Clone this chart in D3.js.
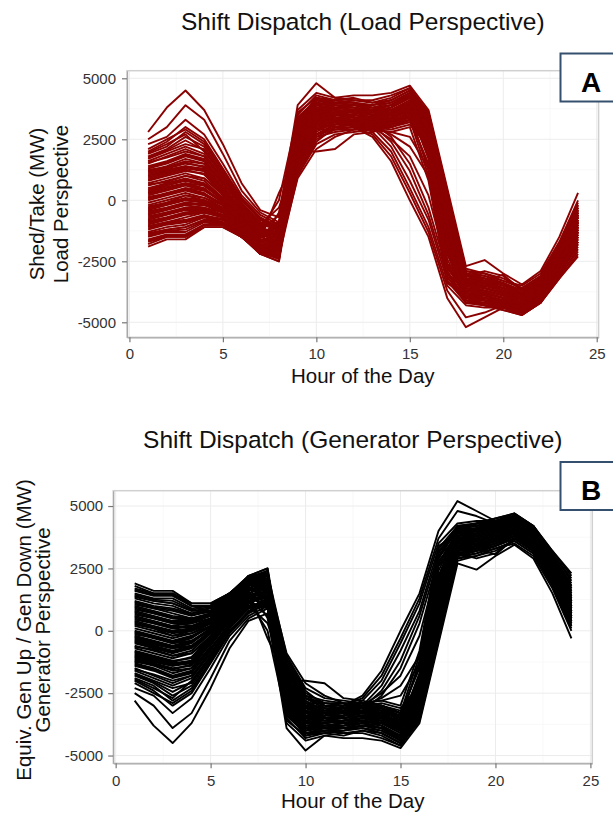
<!DOCTYPE html>
<html lang="en">
<head>
<meta charset="UTF-8">
<title>Shift Dispatch</title>
<script src="https://d3js.org/d3.v7.min.js"></script>
<style>
  body { margin: 0; background: #fff; }
  svg { display: block; font-family: "Liberation Sans", Arial, sans-serif; }
  .tick text { fill: #333; font-size: 15px; }
</style>
</head>
<body>
<div id="chart"></div>
<script>
var hours = [1, 2, 3, 4, 5, 6, 7, 8, 9, 10, 11, 12, 13, 14, 15, 16, 17, 18, 19, 20, 21, 22, 23, 24];
var xTicks = [0, 5, 10, 15, 20, 25];
var xMinor = [2.5, 7.5, 12.5, 17.5, 22.5];
var yTicks = [-5000, -2500, 0, 2500, 5000];
var yMinor = [-3750, -1250, 1250, 3750];

// one row per simulated day, MW shed(+)/take(-) for hours 1..24
var loadShift = [
  [2800,3800,4500,3700,2300,700,-400,-700,3900,4800,4200,4300,4300,4400,4700,3700,500,-2700,-2450,-3000,-3450,-2900,-1500,300],
  [2500,3000,3900,3300,1900,400,-500,-900,2000,2000,2100,2700,2800,3000,3300,2500,-1000,-3300,-3600,-3800,-4000,-3500,-2300,-900],
  [2300,2600,3300,2700,1500,200,-600,-1000,3000,4100,4100,4200,4000,4200,4600,3500,200,-2900,-3000,-3200,-3600,-3100,-1900,-200],
  [2000,2400,3000,2500,1300,100,-700,-1100,2800,3900,4000,4000,3900,4100,4500,3300,-100,-3100,-2900,-3100,-3700,-3200,-2000,-400],
  [1900,2200,2800,2300,1200,0,-800,-1200,2600,3700,3800,3800,3700,3900,4300,3100,-400,-3000,-3200,-3400,-3800,-3300,-2100,-600],
  [1800,2100,2600,2200,1100,-100,-900,-1300,2400,3600,3700,3600,3600,3800,4200,3000,-600,-3200,-3300,-3600,-3900,-3400,-2200,-700],
  [1700,2000,2300,2100,1000,-200,-1000,-1000,2200,3400,3600,3500,3400,3600,4000,1800,-2200,-3400,-3500,-3700,-4000,-3500,-2300,-800],
  [1600,1900,2200,1900,900,-200,-1100,-1400,2000,3200,3400,3400,3300,3500,3900,2600,-1000,-3500,-3600,-3800,-4100,-3600,-2400,-900],
  [1500,1800,2100,1800,800,-300,-1000,-300,1800,3000,3300,3300,3200,3300,3700,2400,-1200,-3600,-3700,-3900,-4200,-3700,-2500,-1000],
  [1400,1600,1900,1700,700,-300,-1200,-1500,1600,2800,3200,3200,3100,3200,3600,1200,-3000,-3700,-3800,-4000,-4300,-3800,-2600,-1100],
  [1300,1500,1800,1600,600,-400,-1100,-1000,1400,2600,3000,3100,3000,3100,3400,2000,-1600,-3800,-3900,-4100,-4400,-3900,-2700,-1200],
  [1200,1400,1700,1500,500,-400,-1300,-1600,1200,2500,2900,3000,2900,3000,3300,1000,-3400,-3900,-4000,-4200,-4400,-4000,-2800,-1300],
  [1100,1300,1500,1400,500,-500,-1200,0,3500,4300,4100,4000,3800,3700,3900,3200,0,-3000,-3300,-3050,-3700,-3200,-2000,-300],
  [1000,1200,1400,1300,400,-500,-1400,-1700,3300,4200,4000,3900,3700,3600,3800,3000,-200,-3200,-3400,-3600,-3800,-3300,-2100,-500],
  [900,1100,1300,1200,300,-600,-1300,-1100,3100,4000,3900,3800,3600,3500,3700,2900,-500,-3300,-3500,-3700,-3900,-3400,-2200,-600],
  [800,1000,1200,1100,300,-600,-1500,-1800,2900,3800,3800,3700,3500,3400,3600,2800,-700,-3400,-3600,-3800,-4000,-3500,-2300,-700],
  [700,900,1100,900,200,-700,-1400,-900,2700,3700,3700,3600,3400,3300,3500,2700,-900,-3500,-3700,-3900,-4100,-3600,-2400,-800],
  [600,800,1000,800,100,-700,-1600,-1900,2500,3500,3600,3500,3300,3200,3400,2500,-1100,-3600,-3800,-4000,-4200,-3700,-2500,-900],
  [500,700,900,700,100,-800,-1500,-1300,2300,3300,3500,3400,3200,3100,3300,1500,-2800,-3700,-3900,-4100,-4300,-3800,-2600,-1000],
  [400,600,800,600,0,-800,-1700,-2000,2100,3100,3400,3300,3100,3000,3200,2300,-1500,-3800,-4000,-4200,-4400,-3900,-2700,-1100],
  [300,500,700,500,-100,-800,-1600,300,1900,2900,3300,3200,3000,2900,3100,2200,-1700,-3900,-4100,-4300,-4500,-4000,-2800,-1200],
  [200,400,600,400,-100,-900,-1800,-2100,1700,2700,3100,3100,2900,2800,3000,800,-3300,-4000,-4100,-4300,-4500,-4100,-2900,-1400],
  [100,300,500,300,-200,-900,-1700,-1400,3700,4400,4200,4100,4100,4300,4600,3600,300,-2800,-3000,-3300,-3500,-3000,-1700,0],
  [0,200,400,200,-200,-1000,-1900,-2200,3200,4200,4100,4000,3900,4000,4400,3400,100,-3000,-3100,-3300,-3600,-3100,-1800,-100],
  [-100,100,300,100,-300,-1000,-1800,-500,3400,4100,3900,3800,3700,3800,4200,3500,-300,-3100,-3200,-3400,-3700,-3200,-1900,-300],
  [-200,0,200,0,-300,-1000,-2000,-2300,2500,3300,3200,3100,3100,3300,3800,3200,-600,-3200,-3300,-3500,-3800,-3300,-2000,-500],
  [-300,-100,100,0,-400,-1100,-1900,-1600,2300,3100,3000,3000,3000,3200,3600,3000,-1000,-3300,-3400,-3600,-3900,-3400,-2100,-700],
  [-400,-200,0,-100,-400,-1100,-2100,-2400,2100,2900,2900,2900,2900,3100,3500,2000,-2600,-3400,-3500,-3700,-4000,-3500,-2200,-800],
  [-500,-300,-100,-200,-500,-1100,-2000,-1200,2700,3600,3500,3500,3400,3500,3900,3100,-800,-3500,-3600,-3800,-4100,-3600,-2300,-900],
  [-600,-400,-200,-300,-500,-1200,-2200,-2500,2900,3900,3700,3600,3500,3700,4100,3300,-400,-3600,-3700,-3900,-4200,-3700,-2400,-1000],
  [-700,-500,-300,-300,-600,-1200,-2100,-1800,1900,3000,3100,3300,3300,3400,3800,2900,-1100,-3700,-3800,-4000,-4300,-3800,-2500,-1100],
  [-800,-600,-400,-400,-600,-1200,-2000,-2000,1500,2700,2900,3000,3100,3200,3500,2700,-1500,-3800,-3900,-4100,-4400,-3900,-2600,-1200],
  [-900,-700,-500,-500,-700,-1300,-2100,-1500,1300,2600,2800,2900,3000,3100,3400,1400,-3200,-3900,-4000,-4200,-4500,-4000,-2700,-1300],
  [-1000,-800,-600,-500,-700,-1300,-2200,-2300,1000,2300,2700,2800,2900,3000,3300,2400,-2200,-4000,-4100,-4300,-4600,-4100,-2900,-1500],
  [-1100,-900,-800,-600,-800,-1300,-2000,-1700,2400,3500,3600,3700,3700,3900,4300,3400,-200,-3400,-3500,-3700,-4000,-3500,-2200,-600],
  [-1200,-1000,-900,-700,-800,-1400,-2100,-2100,2600,3800,3900,3900,3800,4000,4400,3500,0,-3300,-3400,-3600,-3900,-3400,-2100,-400],
  [-1300,-1100,-1000,-700,-900,-1400,-2200,-1900,1100,2400,3000,3200,3300,3400,3700,2500,-1900,-4100,-4200,-4400,-4600,-4200,-3000,-1700],
  [-1400,-1200,-1100,-800,-900,-1400,-2000,-2400,3000,4000,3800,3700,3600,3700,4000,3100,-600,-3600,-3800,-4000,-4300,-3800,-2600,-1200],
  [-1500,-1300,-1300,-900,-1000,-1500,-2100,-1600,2000,3300,3500,3400,3300,3400,3800,2700,-1200,-3900,-4100,-4300,-4500,-4000,-2800,-1400],
  [-1600,-1400,-1400,-1000,-1000,-1500,-2200,-2200,2200,3500,3700,3600,3500,3600,4000,2900,-900,-3600,-3900,-4100,-4400,-3900,-2700,-1300],
  [-1700,-1500,-1500,-1000,-1000,-1500,-2100,-2000,1600,2900,3200,3300,3200,3300,3700,1700,-2900,-4100,-4200,-4400,-4600,-4100,-3000,-1800],
  [-1800,-1500,-1500,-1100,-1100,-1500,-2200,-2500,1800,3100,3300,3200,3100,3000,3300,2300,-2100,-4200,-4300,-4500,-4700,-4200,-3100,-2000],
  [-1900,-1600,-1600,-1100,-1100,-1500,-2000,-1800,2800,3700,3500,3400,3200,3100,3500,2600,-1500,-4000,-4300,-4500,-4700,-4200,-3200,-2200],
  [1950,2300,2700,2000,1000,-200,-900,-1200,2600,3600,3400,3000,2600,1600,0,-1500,-4000,-5200,-4800,-4400,-4700,-4200,-3200,-2300],
  [1250,1350,1600,1500,700,-200,-1100,-900,2400,3400,3300,3000,2700,1800,300,-1300,-3700,-4800,-4600,-4300,-4600,-4100,-3100,-2100],
  [650,750,1000,900,300,-500,-1400,-1600,2200,3300,3200,3100,2800,2000,500,-1100,-3500,-4300,-4400,-4400,-4600,-4100,-3000,-1900],
  [150,250,500,400,0,-700,-1600,-1700,2500,3500,3400,3200,3000,2200,800,-800,-3300,-4200,-4300,-4300,-4500,-4000,-2900,-1800],
  [-250,-100,200,100,-200,-900,-1800,-1900,2300,3200,3300,3200,3100,2400,1200,-600,-3100,-4200,-4200,-4300,-4500,-4000,-2900,-1700],
  [-650,-500,-300,-200,-400,-1000,-1900,-2200,2700,3700,3600,3400,3200,2600,1500,-300,-2900,-4100,-4100,-4200,-4400,-3900,-2800,-1600],
  [-1050,-900,-700,-500,-600,-1200,-2000,-1300,2100,3100,3200,3100,3000,2500,1800,200,-2700,-4000,-4000,-4100,-4400,-3900,-2700,-1500],
  [-1350,-1200,-1100,-800,-800,-1300,-2000,-2300,2500,3600,3800,3900,3900,4100,4500,3600,400,-2900,-3100,-3400,-3700,-3200,-1900,-300],
  [1050,1250,1400,1200,500,-400,-1200,-1300,1400,2700,3100,3200,3200,3400,3800,2800,-1300,-3700,-3900,-4100,-4300,-3800,-2400,-800],
  [350,550,700,600,100,-600,-1500,-1100,3600,4200,4000,3900,3800,3900,4300,3400,-100,-3200,-3400,-3700,-4000,-3500,-2300,-700],
  [-450,-300,-100,0,-300,-1000,-1900,-1500,2100,3200,3500,3500,3400,3500,3900,3000,-700,-3500,-3700,-3900,-4200,-3700,-2500,-1000],
  [-850,-700,-500,-400,-600,-1100,-2000,-2100,900,2100,2600,2900,3000,3100,3500,2600,-1800,-4000,-4000,-4200,-4500,-4000,-2800,-1300],
  [1550,1750,2000,1800,900,-100,-1000,-1100,3100,4100,4000,4100,4000,4100,4500,3500,200,-3100,-3300,-3500,-3800,-3300,-2000,-500],
  [1750,2050,2450,2050,1050,-150,-950,-1250,3300,4000,3800,3700,3600,3800,4300,3300,-200,-3000,-3200,-3500,-3800,-3300,-2100,-400],
  [1150,1350,1550,1350,450,-450,-1250,-600,2400,3400,3500,3400,3300,3500,3900,2900,-900,-3300,-3500,-3700,-4000,-3500,-2300,-700],
  [850,1050,1250,1050,250,-650,-1450,-1500,2000,3000,3300,3400,3300,3400,3800,2500,-1600,-3600,-3800,-4000,-4300,-3800,-2600,-1100],
  [450,650,850,650,50,-750,-1650,-1800,2800,3800,3700,3600,3500,3600,4000,3200,-400,-3200,-3400,-3600,-3900,-3400,-2200,-600],
  [50,250,450,250,-150,-950,-1850,-2000,1600,2700,3000,3100,3100,3300,3700,2200,-2000,-3800,-4000,-4200,-4500,-4000,-2800,-1400],
  [-350,-150,50,-50,-350,-1050,-1950,-900,3000,3900,3800,3700,3600,3700,4100,3300,-100,-3100,-3300,-3500,-3800,-3300,-2100,-500],
  [-750,-550,-350,-350,-650,-1250,-2150,-2400,2200,3300,3400,3400,3300,3400,3800,2700,-1200,-3500,-3700,-3900,-4200,-3700,-2500,-900],
  [-1150,-950,-850,-650,-750,-1350,-2050,-1900,2600,3600,3700,3600,3500,3600,4000,3000,-700,-3400,-3600,-3800,-4100,-3600,-2400,-800],
  [-1450,-1250,-1200,-850,-950,-1450,-2050,-2200,1900,3100,3300,3300,3200,3300,3700,2400,-1700,-3800,-4000,-4200,-4500,-4000,-2700,-1200],
  [-1650,-1450,-1450,-1000,-1000,-1500,-2150,-2300,2400,3400,3500,3500,3400,3500,3900,3100,-1000,-3600,-3800,-4000,-4300,-3800,-2600,-1000],
  [1350,1550,1850,1650,750,-250,-1150,-1400,2900,3800,3700,3400,3000,2700,2200,1000,-2600,-3900,-4100,-4300,-4500,-4000,-2900,-1600],
  [250,450,650,450,-50,-850,-1750,-1200,2600,3500,3400,3200,2900,2800,2600,1300,-3000,-4100,-4300,-4400,-4600,-4100,-3000,-1700],
  [-550,-350,-150,-150,-450,-1050,-1950,-1700,1700,2900,3100,3200,3100,3200,3500,2100,-2400,-4000,-4100,-4300,-4600,-4100,-2900,-1500],
  [-950,-750,-550,-450,-650,-1250,-2050,-2000,3200,4000,3900,3800,3700,3900,4400,3500,100,-3000,-3200,-3400,-3700,-3200,-1900,-200],
  [2100,2500,2900,2400,1200,50,-750,-1100,2300,3400,3600,3600,3500,3600,4000,3000,-800,-3400,-3600,-3800,-4100,-3600,-2300,-600],
  [950,1150,1350,1250,350,-550,-1350,-1300,3400,4100,4000,3900,3800,3900,4200,3400,-300,-3200,-3400,-3600,-3900,-3400,-2200,-500]
];

// generator perspective: the same shift seen from the supply side (sign flipped)
var genShift = loadShift.map(function(row) {
    return row.map(function(v) { return -v; });
});

var svg = d3.select("#chart").append("svg")
    .attr("width", 613)
    .attr("height", 814);

function drawPanel(p) {
    var x = d3.scaleLinear().domain([-0.13, 25.1]).range([p.left, p.right]);
    var y = d3.scaleLinear().domain(p.yDomain).range([p.bottom, p.top]);
    var g = svg.append("g");

    // grid
    g.selectAll(".xminor").data(xMinor).enter().append("line")
        .attr("x1", d => x(d)).attr("x2", d => x(d))
        .attr("y1", p.top).attr("y2", p.bottom)
        .attr("stroke", "#f6f6f6").attr("stroke-width", 0.8);
    g.selectAll(".yminor").data(yMinor).enter().append("line")
        .attr("x1", p.left).attr("x2", p.right)
        .attr("y1", d => y(d)).attr("y2", d => y(d))
        .attr("stroke", "#f6f6f6").attr("stroke-width", 0.8);
    g.selectAll(".xmajor").data(xTicks).enter().append("line")
        .attr("x1", d => x(d)).attr("x2", d => x(d))
        .attr("y1", p.top).attr("y2", p.bottom)
        .attr("stroke", "#ececec").attr("stroke-width", 1);
    g.selectAll(".ymajor").data(yTicks).enter().append("line")
        .attr("x1", p.left).attr("x2", p.right)
        .attr("y1", d => y(d)).attr("y2", d => y(d))
        .attr("stroke", "#ececec").attr("stroke-width", 1);

    // one line per day
    var line = d3.line()
        .x((d, i) => x(hours[i]))
        .y(d => y(d));
    g.selectAll(".day").data(p.data).enter().append("path")
        .attr("d", line)
        .attr("fill", "none")
        .attr("stroke", p.color)
        .attr("stroke-width", 1.9)
        .attr("stroke-linejoin", "round");

    // panel border
    g.append("rect")
        .attr("x", p.left).attr("y", p.top)
        .attr("width", p.right - p.left).attr("height", p.bottom - p.top)
        .attr("fill", "none").attr("stroke", "#d0d0d0").attr("stroke-width", 1.5);

    var xAxis = g.append("g")
        .attr("transform", "translate(0," + p.bottom + ")")
        .call(d3.axisBottom(x).tickValues(xTicks).tickSize(5).tickSizeOuter(0).tickPadding(p.xPad)
            .tickFormat(d => String(d)));
    var yAxis = g.append("g")
        .attr("transform", "translate(" + p.left + ",0)")
        .call(d3.axisLeft(y).tickValues(yTicks).tickSize(5).tickSizeOuter(0).tickPadding(p.yPad)
            .tickFormat(d => String(d)));
    [xAxis, yAxis].forEach(function(a) {
        a.select(".domain").attr("stroke", "#a8a8a8").attr("stroke-width", 1.3);
        a.selectAll(".tick line").attr("stroke", "#777").attr("stroke-width", 1.2);
        a.selectAll(".tick text").attr("font-size", "15px").attr("font-family", "Liberation Sans, Arial, sans-serif");
    });

    // titles
    svg.append("text")
        .attr("x", (p.left + p.right) / 2).attr("y", p.titleY)
        .attr("text-anchor", "middle").attr("font-size", "24.5px").attr("fill", "#111")
        .text(p.title);
    svg.append("text")
        .attr("x", (p.left + p.right) / 2).attr("y", p.xLabelY)
        .attr("text-anchor", "middle").attr("font-size", "20.5px").attr("fill", "#111")
        .text("Hour of the Day");
    p.yLabels.forEach(function(t, i) {
        svg.append("text")
            .attr("transform", "translate(" + p.yLabelX[i] + "," + p.yLabelCy + ") rotate(-90)")
            .attr("text-anchor", "middle").attr("font-size", "20.5px").attr("fill", "#111")
            .text(t);
    });

    // panel tag
    svg.append("rect")
        .attr("x", 560.5).attr("y", p.tagTop)
        .attr("width", 70).attr("height", 48)
        .attr("fill", "#fff").attr("stroke", "#34506e").attr("stroke-width", 2);
    svg.append("text")
        .attr("x", 591).attr("y", p.tagTop + 38)
        .attr("text-anchor", "middle").attr("font-size", "28px").attr("font-weight", "bold")
        .attr("fill", "#000")
        .text(p.tag);
}

drawPanel({
    data: loadShift, color: "#8b0000",
    left: 127, right: 598.6, top: 70.7, bottom: 337.3,
    yDomain: [-5615, 5311], xPad: 6, yPad: 6,
    title: "Shift Dispatch (Load Perspective)", titleY: 30,
    xLabelY: 383,
    yLabels: ["Shed/Take (MW)", "Load Perspective"], yLabelX: [44, 68], yLabelCy: 204,
    tag: "A", tagTop: 53.5
});

drawPanel({
    data: genShift, color: "#000",
    left: 113.2, right: 592.3, top: 490.7, bottom: 763.3,
    yDomain: [-5311, 5615], xPad: 7, yPad: 5,
    title: "Shift Dispatch (Generator Perspective)", titleY: 448,
    xLabelY: 808,
    yLabels: ["Equiv. Gen Up / Gen Down (MW)", "Generator Perspective"], yLabelX: [31, 50], yLabelCy: 630,
    tag: "B", tagTop: 462
});
</script>
</body>
</html>
